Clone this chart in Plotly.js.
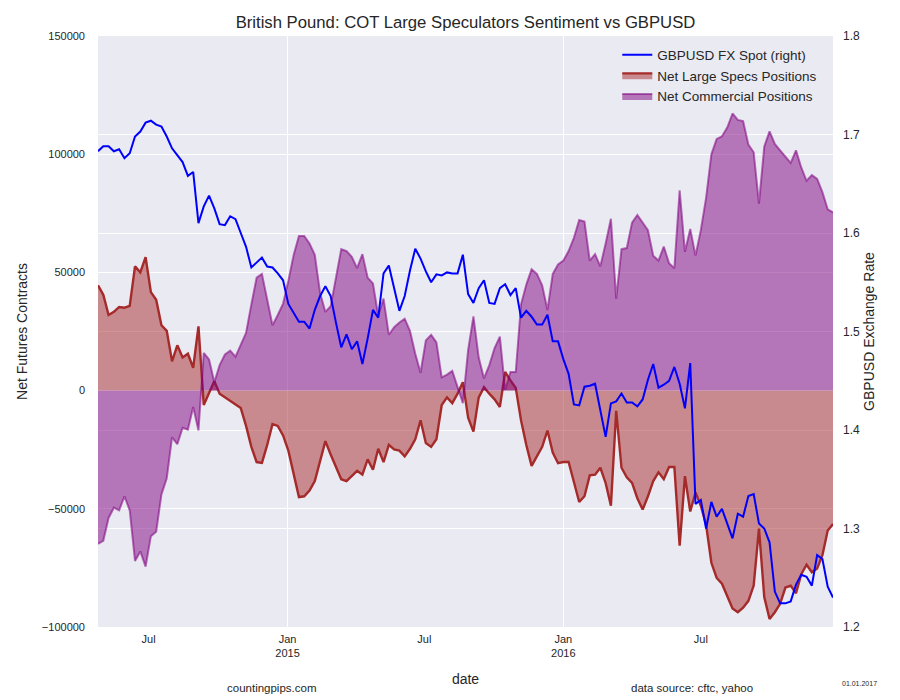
<!DOCTYPE html>
<html>
<head>
<meta charset="utf-8">
<script src="https://cdn.plot.ly/plotly-3.0.1.min.js"></script>
<style>
  html, body { margin: 0; padding: 0; background: #ffffff; }
  #chart { width: 900px; height: 700px; }
</style>
</head>
<body>
<div id="chart"></div>
<script>
// ---- data (weekly COT report dates, Fridays) ----
var firstDate = '2014-04-25';
var weekCount = 140;

var gbpusdSpot = [
  1.683, 1.688, 1.688, 1.683, 1.685, 1.676, 1.681, 1.698, 1.703, 1.712,
  1.714, 1.710, 1.708, 1.698, 1.686, 1.679, 1.672, 1.658, 1.662, 1.610,
  1.627, 1.638, 1.625, 1.609, 1.608, 1.617, 1.614, 1.600, 1.586, 1.565,
  1.570, 1.575, 1.566, 1.565, 1.559, 1.552, 1.528, 1.519, 1.510, 1.510,
  1.503, 1.522, 1.536, 1.546, 1.536, 1.509, 1.484, 1.497, 1.482, 1.490,
  1.467, 1.493, 1.522, 1.514, 1.559, 1.567, 1.544, 1.521, 1.536, 1.562,
  1.584, 1.574, 1.561, 1.550, 1.558, 1.557, 1.560, 1.559, 1.559, 1.578,
  1.538, 1.529, 1.544, 1.552, 1.529, 1.528, 1.544, 1.548, 1.537, 1.544,
  1.514, 1.521, 1.515, 1.507, 1.507, 1.517, 1.490, 1.490, 1.472, 1.457,
  1.426, 1.425, 1.444, 1.445, 1.447, 1.420, 1.393, 1.427, 1.429, 1.437,
  1.428, 1.428, 1.424, 1.431, 1.451, 1.467, 1.443, 1.446, 1.450, 1.464,
  1.447, 1.422, 1.468, 1.325, 1.329, 1.300, 1.327, 1.312, 1.320, 1.305,
  1.290, 1.315, 1.312, 1.333, 1.335, 1.305, 1.300, 1.286, 1.236, 1.224,
  1.224, 1.226, 1.243, 1.253, 1.251, 1.242, 1.273, 1.269, 1.241, 1.230
];

var netLargeSpecs = [
  44540, 40520, 32000, 33290, 35380, 35050, 35860, 52580, 50010, 56440,
  41650, 38430, 27660, 25250, 12380, 19140, 13990, 15600, 9650, 27180,
  -6110, -1290, 4020, -1290, -2890, -4500, -6110, -7400, -14950, -23800,
  -30230, -30550, -22990, -14150, -14950, -18970, -25400, -35860, -45020, -44700,
  -42290, -38270, -29430, -21390, -27010, -32640, -37470, -38270, -36180, -33930,
  -35540, -29100, -33450, -24600, -30230, -22990, -24920, -25410, -27820, -24600,
  -20580, -12540, -22190, -23800, -20580, -6110, -2890, -5310, -1290, 3540,
  -11420, -17370, -2890, 1450, -1290, -3700, -6910, 7880, 4340, 1130,
  -12540, -22990, -31840, -27820, -23800, -16880, -26210, -30710, -30230, -30230,
  -38270, -47110, -44700, -35860, -35540, -32640, -39070, -48720, -8520, -32640,
  -36660, -39070, -45510, -50330, -44700, -38270, -34570, -37470, -32320, -32320,
  -65610, -36180, -51130, -43090, -48720, -56760, -72840, -79270, -81690, -87310,
  -92140, -93750, -91820, -88920, -82490, -58370, -87310, -96640, -93750, -90210,
  -83300, -82490, -85710, -77670, -73650, -76860, -75250, -69630, -59170, -56440
];

var netCommercial = [
  -64800, -63520, -53870, -49530, -50650, -44700, -50650, -72040, -68020, -74450,
  -61590, -59660, -43900, -37140, -19780, -22670, -15760, -16560, -6910, -16880,
  15920, 13190, 3540, 10770, 15280, 16880, 14310, 19620, 24440, 36500,
  47760, 49370, 38110, 27660, 32000, 36820, 46470, 57410, 65450, 65450,
  62230, 57410, 41330, 33290, 35700, 47760, 59820, 59010, 56600, 51780,
  57730, 47760, 45350, 31680, 38910, 23640, 26850, 28780, 30390, 25250,
  15600, 7560, 21230, 23640, 20420, 5630, 6750, 8360, 1130, -5310,
  17210, 31360, 13990, 5150, 10770, 18010, 22830, 320, 7880, 7880,
  36500, 44860, 51300, 49370, 44540, 34090, 49370, 53390, 54990, 59010,
  64640, 72200, 71560, 54990, 57730, 52580, 62230, 72680, 38910, 59820,
  60300, 71070, 74290, 71070, 67860, 57080, 54990, 60940, 53870, 51780,
  84740, 58690, 68340, 57080, 67860, 81530, 100020, 106450, 107580, 111270,
  117220, 114490, 114000, 104040, 100820, 79110, 103230, 109660, 104360, 101630,
  98890, 96320, 101630, 94390, 88760, 91170, 89560, 83940, 76700, 75410
];

// ---- axis ticks ----
var xTickVals = ['2014-07-01', '2015-01-01', '2015-07-01', '2016-01-01', '2016-07-01'];
var xTickText = ['Jul', 'Jan<br>2015', 'Jul', 'Jan<br>2016', 'Jul'];
var xGridVals = ['2015-01-01', '2016-01-01'];
var yLeftTicks = [-100000, -50000, 0, 50000, 100000, 150000];
var yLeftText = ['\u2212100000', '\u221250000', '0', '50000', '100000', '150000'];
var yRightTicks = [1.2, 1.3, 1.4, 1.5, 1.6, 1.7, 1.8];
var yRightText = ['1.2', '1.3', '1.4', '1.5', '1.6', '1.7', '1.8'];

// weekly date labels
function weeklyDates(start, n) {
  var p = start.split('-');
  var t0 = Date.UTC(+p[0], +p[1] - 1, +p[2]);
  var out = [];
  for (var k = 0; k < n; k++) {
    out.push(new Date(t0 + k * 7 * 86400000).toISOString().slice(0, 10));
  }
  return out;
}
var dates = weeklyDates(firstDate, weekCount);

var FONT = 'Liberation Sans, Arial, sans-serif';
var TXT = '#262626';

var traces = [
  {
    x: dates, y: gbpusdSpot, yaxis: 'y2', type: 'scatter', mode: 'lines',
    name: 'GBPUSD FX Spot (right)',
    line: { color: '#0000ff', width: 2 }
  },
  {
    x: dates, y: netLargeSpecs, yaxis: 'y', type: 'scatter', mode: 'lines',
    name: 'Net Large Specs Positions', fill: 'tozeroy',
    fillcolor: 'rgba(165,42,42,0.5)',
    line: { color: 'rgb(165,42,42)', width: 2.4 }
  },
  {
    x: dates, y: netCommercial, yaxis: 'y', type: 'scatter', mode: 'lines',
    name: 'Net Commercial Positions', fill: 'tozeroy',
    fillcolor: 'rgba(128,0,128,0.5)',
    line: { color: 'rgba(128,0,128,0.55)', width: 2 }
  }
];

var layout = {
  width: 900, height: 700,
  margin: { l: 98, r: 67, t: 36, b: 73, autoexpand: false },
  paper_bgcolor: '#ffffff',
  plot_bgcolor: '#EAEAF2',
  font: { family: FONT, color: TXT, size: 11 },
  showlegend: true,
  hovermode: false,
  title: {
    text: 'British Pound: COT Large Speculators Sentiment vs GBPUSD',
    font: { family: FONT, size: 16.7, color: TXT },
    x: 0.5, xref: 'paper', xanchor: 'center',
    y: 1 - 22 / 700, yref: 'container', yanchor: 'middle'
  },
  xaxis: {
    type: 'date',
    range: [dates[0], dates[dates.length - 1]],
    tickmode: 'array', tickvals: xTickVals, ticktext: xTickText,
    showgrid: false, zeroline: false, showline: false,
    ticks: '', ticklabelstandoff: 4,
    tickfont: { family: FONT, size: 11, color: TXT },
    minor: { tickmode: 'array', tickvals: xGridVals, showgrid: true, gridcolor: '#ffffff', gridwidth: 1, ticks: '' },
    title: { text: 'date', font: { family: FONT, size: 14, color: TXT }, standoff: 15 },
    automargin: false
  },
  yaxis: {
    range: [-100000, 150000],
    tickmode: 'array', tickvals: yLeftTicks, ticktext: yLeftText,
    showgrid: true, gridcolor: '#ffffff', gridwidth: 1,
    zeroline: false, showline: false, ticks: '', ticklabelstandoff: 12,
    tickfont: { family: FONT, size: 11, color: TXT },
    title: { text: 'Net Futures Contracts', font: { family: FONT, size: 14, color: TXT }, standoff: 10 },
    automargin: false
  },
  yaxis2: {
    overlaying: 'y', side: 'right',
    range: [1.2, 1.8],
    tickmode: 'array', tickvals: yRightTicks, ticktext: yRightText,
    showgrid: true, gridcolor: '#ffffff', gridwidth: 1,
    zeroline: false, showline: false, ticks: '', ticklabelstandoff: 9,
    tickfont: { family: FONT, size: 12, color: TXT },
    title: { text: 'GBPUSD Exchange Rate', font: { family: FONT, size: 14, color: TXT }, standoff: 5 },
    automargin: false
  },
  legend: {
    x: 0.7065, xanchor: 'left', y: 0.994, yanchor: 'top',
    bgcolor: 'rgba(0,0,0,0)', borderwidth: 0,
    font: { family: FONT, size: 13.5, color: TXT },
    traceorder: 'normal'
  },
  annotations: [
    { text: 'countingpips.com', xref: 'paper', yref: 'paper', x: 0.2371, y: -0.1032,
      xanchor: 'center', yanchor: 'middle', showarrow: false,
      font: { family: FONT, size: 11.5, color: TXT } },
    { text: 'data source: cftc, yahoo', xref: 'paper', yref: 'paper', x: 0.8086, y: -0.1032,
      xanchor: 'center', yanchor: 'middle', showarrow: false,
      font: { family: FONT, size: 11.5, color: TXT } },
    { text: '01.01.2017', xref: 'paper', yref: 'paper', x: 1.0358, y: -0.0964,
      xanchor: 'center', yanchor: 'middle', showarrow: false,
      font: { family: FONT, size: 7, color: TXT } }
  ]
};

Plotly.newPlot('chart', traces, layout, { staticPlot: true, displayModeBar: false });
</script>
</body>
</html>
